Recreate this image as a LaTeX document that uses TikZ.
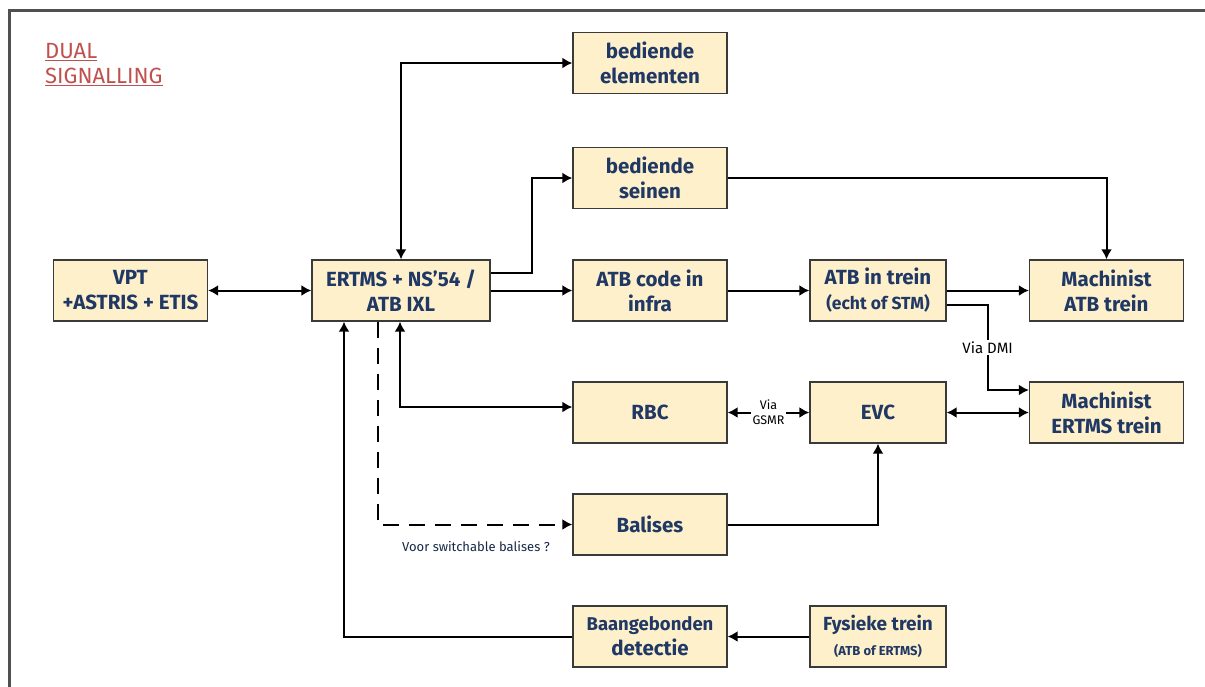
\documentclass[tikz,border=0pt]{standalone}
\usepackage{fontspec}
\setmainfont{Fira Sans}
\usetikzlibrary{arrows.meta,calc}
\definecolor{boxfill}{HTML}{FFF0CC}
\definecolor{boxtext}{HTML}{1F3864}
\definecolor{boxline}{HTML}{3A3A3A}
\definecolor{titlered}{HTML}{C0504D}
\definecolor{frame}{HTML}{505050}
\begin{document}
\begin{tikzpicture}[x=1pt,y=-1pt,
  blk/.style={draw=boxline,line width=1.3pt,fill=boxfill,text=boxtext,
    font=\fontsize{20.5}{25}\selectfont\bfseries,align=center,inner sep=0pt,
    minimum width=154pt,minimum height=61pt},
  narrow/.style={minimum width=136pt},
  wide/.style={minimum width=178pt},
  conn/.style={line width=2pt,-{Latex[length=10pt,width=11pt]}},
  dconn/.style={line width=2pt,{Latex[length=10pt,width=11pt]}-{Latex[length=10pt,width=11pt]}},
  lbl/.style={fill=white,inner sep=1.5pt,align=center}
]
\useasboundingbox (0,0) rectangle (1205,686);
\draw[frame,line width=3pt] (9,690) -- (9,10) -- (1210,10);

\node[text=titlered,anchor=north west,align=left,inner sep=0pt,
  font=\fontsize{22}{25}\selectfont] (title) at (45,43)
  {\underline{DUAL}\\\underline{SIGNALLING}};

\node[blk] (vpt) at (130.5,290.5) {VPT\\+ASTRIS + ETIS};
\node[blk,wide] (ertms) at (401,290.5) {ERTMS + NS'54 /\\ATB IXL};
\node[blk] (elem) at (650,63) {bediende\\elementen};
\node[blk] (seinen) at (650,178) {bediende\\seinen};
\node[blk] (infra) at (650,290.5) {ATB code in\\infra};
\node[blk,narrow] (atbt) at (878,290.5) {ATB in trein\\{\fontsize{17.5}{22}\selectfont (echt of STM)}};
\node[blk] (machatb) at (1106.5,290.5) {Machinist\\ATB trein};
\node[blk] (rbc) at (650,412.5) {RBC};
\node[blk,narrow] (evc) at (878,412.5) {EVC};
\node[blk] (machertms) at (1106.5,412.5) {Machinist\\ERTMS trein};
\node[blk] (balises) at (650,524.5) {Balises};
\node[blk] (detectie) at (650,636.5) {{\fontsize{18.5}{23}\selectfont Baangebonden}\\detectie};
\node[blk,narrow] (fysiek) at (878,636.5) {{\fontsize{19}{22}\selectfont Fysieke trein}\\{\fontsize{13}{16}\selectfont (ATB of ERTMS)}};

% connectors
\draw[dconn] (vpt.east) -- (ertms.west);
\draw[dconn] (ertms.north) |- (elem.west);
\draw[conn] ($(ertms.east)+(0,-17.5)$) -- ++(41,0) |- (seinen.west);
\draw[conn] (ertms.east) -- (infra.west);
\draw[conn] (infra.east) -- (atbt.west);
\draw[conn] (atbt.east) -- (machatb.west);
\draw[conn] (seinen.east) -| (machatb.north);
\draw[conn] ($(atbt.east)+(0,14)$) -- ++(41,0) |- ($(machertms.west)+(0,-22.5)$)
  node[lbl,pos=0.25,font=\fontsize{15}{17}\selectfont] (dmi) {Via DMI};
\draw[dconn] ($(ertms.south)+(-1,0)$) |- ($(rbc.west)+(0,-5.5)$);
\draw[conn] (detectie.west) -| ($(ertms.south)+(-57,0)$);
\draw[conn,dash pattern=on 16pt off 10pt] ($(ertms.south)+(-23,0)$) |- (balises.west);
\node[font=\fontsize{13}{15}\selectfont,text=boxtext!70!black] (voor) at (476,546) {Voor switchable balises ?};
\draw[dconn] (rbc.east) -- (evc.west)
  node[lbl,midway,font=\fontsize{12.5}{15}\selectfont] (gsmr) {Via\\GSMR};
\draw[dconn] (evc.east) -- (machertms.west);
\draw[conn] (balises.east) -| (evc.south);
\draw[conn] (fysiek.west) -- (detectie.east);
\end{tikzpicture}
\end{document}
